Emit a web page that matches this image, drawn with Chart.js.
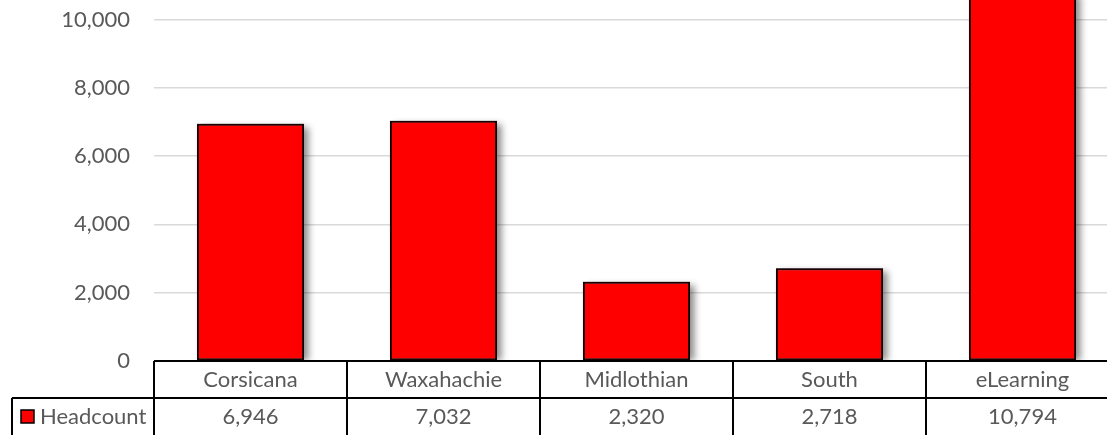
<!DOCTYPE html>
<html>
<head>
<meta charset="utf-8">
<script src="https://cdn.jsdelivr.net/npm/chart.js@4.4.0/dist/chart.umd.min.js"></script>
<style>
  html, body { margin: 0; padding: 0; background: #fff; overflow: hidden; }
  #wrap { width: 1125px; height: 450px; }
</style>
</head>
<body>
<div id="wrap"><canvas id="grafico" width="1125" height="450"></canvas></div>
<script>
  const categorias = ["Corsicana", "Waxahachie", "Midlothian", "South", "eLearning"];
  const headcount = [6946, 7032, 2320, 2718, 10794];
  const nomeSerie = "Headcount";
  const ticksY = [0, 2000, 4000, 6000, 8000, 10000];

  const fonte = "Lato, 'Noto Sans', sans-serif";
  const corTexto = "#595959";

  // sombra atrás das barras
  const sombraBarras = {
    id: "sombraBarras",
    beforeDatasetsDraw(chart) {
      const ctx = chart.ctx;
      const area = chart.chartArea;
      ctx.save();
      ctx.beginPath();
      ctx.rect(area.left, area.top, area.right - area.left + 20, area.bottom - area.top);
      ctx.clip();
      ctx.shadowColor = "rgba(0,0,0,0.45)";
      ctx.shadowBlur = 7;
      ctx.shadowOffsetX = 5;
      ctx.shadowOffsetY = 3;
      ctx.fillStyle = "#888";
      chart.getDatasetMeta(0).data.forEach(bar => {
        const w = bar.width;
        const top = Math.min(bar.y, bar.base);
        ctx.fillRect(bar.x - w / 2, top, w, Math.abs(bar.base - bar.y) - 2);
      });
      ctx.restore();
    }
  };

  // tabela de dados embaixo do gráfico
  const tabelaDados = {
    id: "tabelaDados",
    afterDraw(chart) {
      const ctx = chart.ctx;
      const x = chart.scales.x;
      const area = chart.chartArea;
      const topo = area.bottom;
      const linha = topo + 37;
      const fim = chart.height;
      const esquerda = 12;
      const passo = (area.right - area.left) / categorias.length;

      ctx.save();
      ctx.strokeStyle = "#000";
      ctx.lineWidth = 2;
      ctx.beginPath();
      ctx.moveTo(area.left, topo);
      ctx.lineTo(area.right, topo);
      ctx.moveTo(esquerda, linha);
      ctx.lineTo(area.right, linha);
      ctx.moveTo(esquerda, linha);
      ctx.lineTo(esquerda, fim);
      for (let i = 0; i <= categorias.length; i++) {
        const px = area.left + passo * i;
        ctx.moveTo(px, topo);
        ctx.lineTo(px, fim);
      }
      ctx.stroke();

      ctx.font = "22px " + fonte;
      ctx.fillStyle = corTexto;
      ctx.textBaseline = "middle";
      ctx.textAlign = "center";
      categorias.forEach((c, i) => {
        const px = x.getPixelForValue(i);
        ctx.fillText(c, px, topo + 19);
        ctx.fillText(headcount[i].toLocaleString("en-US"), px, linha + 19);
      });

      ctx.fillStyle = "#ff0000";
      ctx.fillRect(21, linha + 12, 13, 13);
      ctx.lineWidth = 1.5;
      ctx.strokeRect(21, linha + 12, 13, 13);
      ctx.fillStyle = corTexto;
      ctx.textAlign = "left";
      ctx.fillText(nomeSerie, 40, linha + 19);
      ctx.restore();
    }
  };

  new Chart(document.getElementById("grafico"), {
    type: "bar",
    data: {
      labels: categorias,
      datasets: [{
        label: nomeSerie,
        data: headcount,
        backgroundColor: "#ff0000",
        borderColor: "#1a0000",
        borderWidth: 2,
        borderSkipped: false,
        barPercentage: 0.555,
        categoryPercentage: 1
      }]
    },
    options: {
      responsive: false,
      animation: false,
      devicePixelRatio: 1,
      layout: { padding: { left: 0, top: 0, right: 6, bottom: 89 } },
      plugins: { legend: { display: false }, tooltip: { enabled: false } },
      scales: {
        x: { display: false },
        y: {
          min: 0,
          max: 10571,
          border: { display: false },
          grid: { color: "#d9d9d9", lineWidth: 1.5, drawTicks: false },
          afterBuildTicks(scale) {
            scale.ticks = ticksY.map(v => ({ value: v }));
          },
          ticks: {
            padding: 24,
            color: corTexto,
            font: { family: fonte, size: 22 },
            callback: v => v.toLocaleString("en-US")
          },
          afterFit(scale) {
            scale.width = 154;
            scale.paddingTop = 0;
            scale.paddingBottom = 0;
          }
        }
      }
    },
    plugins: [sombraBarras, tabelaDados]
  });
</script>
</body>
</html>
